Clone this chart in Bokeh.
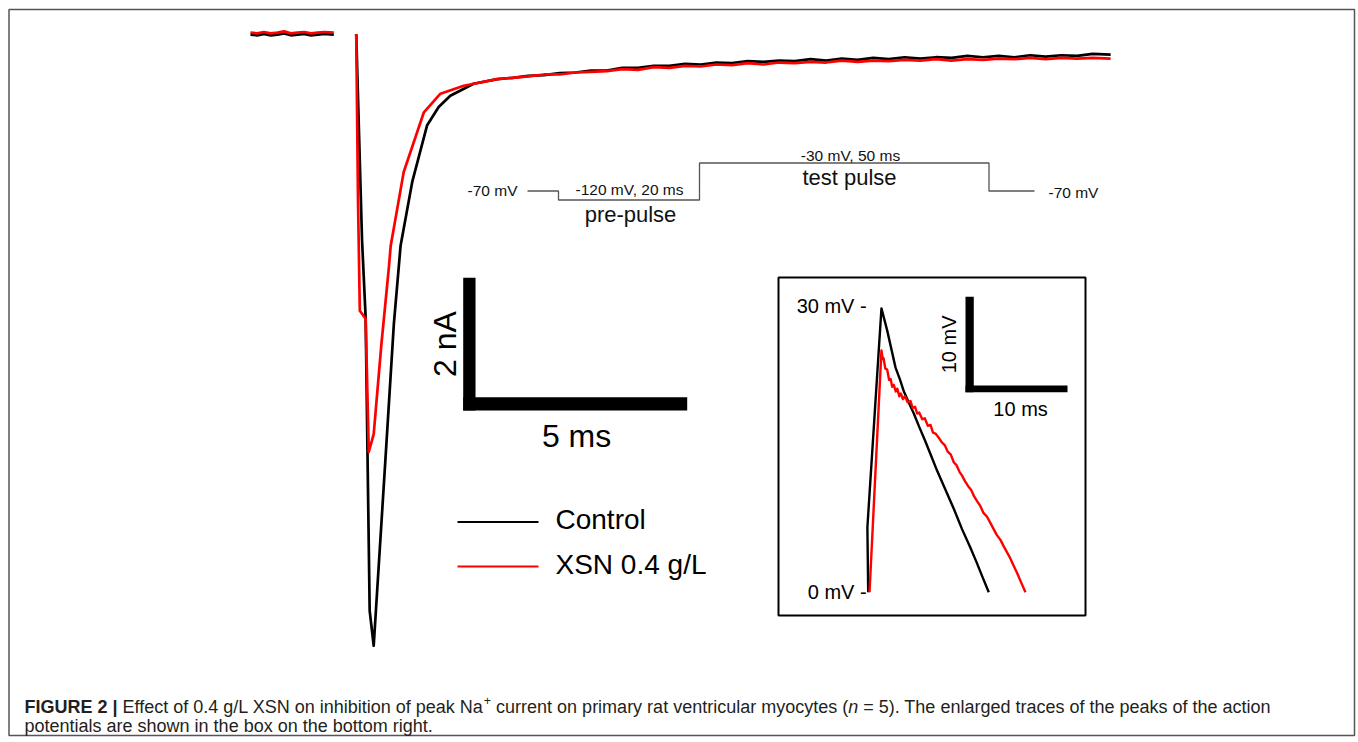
from math import pi
from bokeh.plotting import figure
from bokeh.models import Range1d
from bokeh.embed import file_html
from bokeh.resources import INLINE
from bokeh.core.properties import value

# ---------------- data ----------------
# Na+ current traces (time in ms, current in nA)
base_t = [0.00, 0.15, 0.30, 0.45, 0.60, 0.75, 0.90, 1.05, 1.20, 1.35, 1.50, 1.65, 1.86]
ctrl_base_i = [-0.01, -0.02, 0.00, -0.02, -0.01, 0.01, -0.02, -0.01, 0.00, -0.02, -0.01, 0.00, -0.01]
xsn_base_i = [0.02, 0.01, 0.03, 0.01, 0.02, 0.04, 0.01, 0.02, 0.03, 0.01, 0.02, 0.03, 0.02]

ctrl_t = [2.36, 2.49, 2.57, 2.66, 2.75, 2.79, 3.01, 3.20, 3.35, 3.61, 3.94, 4.20, 4.46, 4.98, 5.51,
          5.85, 6.20, 6.55, 6.90, 7.25, 7.60, 7.95, 8.30, 8.65, 9.00, 9.35, 9.70, 10.05, 10.40, 10.75,
          11.10, 11.45, 11.80, 12.15, 12.50, 12.85, 13.20, 13.55, 13.90, 14.25, 14.60, 14.95, 15.30,
          15.65, 16.00, 16.35, 16.70, 17.05, 17.40, 17.75, 18.10, 18.45, 18.80, 19.20]
ctrl_i = [0.00, -3.11, -4.27, -8.69, -9.22, -8.79, -6.43, -4.37, -3.19, -2.23, -1.38, -1.10, -0.93, -0.75, -0.68,
          -0.66, -0.63, -0.62, -0.59, -0.58, -0.55, -0.55, -0.51, -0.51, -0.48, -0.48, -0.45, -0.46, -0.43, -0.44,
          -0.41, -0.42, -0.40, -0.41, -0.38, -0.40, -0.37, -0.39, -0.36, -0.38, -0.35, -0.37, -0.35,
          -0.36, -0.33, -0.35, -0.33, -0.35, -0.32, -0.34, -0.32, -0.33, -0.30, -0.31]

xsn_t = [2.36, 2.40, 2.44, 2.57, 2.64, 2.75, 2.92, 3.09, 3.13, 3.42, 3.87, 4.24, 4.76, 5.51,
         5.85, 6.20, 6.55, 6.90, 7.25, 7.60, 7.95, 8.30, 8.65, 9.00, 9.35, 9.70, 10.05, 10.40, 10.75,
         11.10, 11.45, 11.80, 12.15, 12.50, 12.85, 13.20, 13.55, 13.90, 14.25, 14.60, 14.95, 15.30,
         15.65, 16.00, 16.35, 16.70, 17.05, 17.40, 17.75, 18.10, 18.45, 18.80, 19.20]
xsn_i = [0.00, -2.51, -4.17, -4.29, -6.30, -6.03, -4.69, -3.51, -3.19, -2.08, -1.18, -0.90, -0.78, -0.68,
         -0.66, -0.64, -0.61, -0.61, -0.58, -0.57, -0.56, -0.53, -0.54, -0.50, -0.51, -0.48, -0.49, -0.46, -0.47,
         -0.44, -0.46, -0.43, -0.44, -0.42, -0.43, -0.40, -0.42, -0.40, -0.41, -0.39, -0.40, -0.38,
         -0.40, -0.38, -0.39, -0.37, -0.38, -0.36, -0.38, -0.36, -0.37, -0.36, -0.37]

# Action potential peaks (inset; time in ms, voltage in mV)
ap_ctrl_t = [0.00, -0.08, 1.30, 1.86, 2.68, 3.10, 3.50, 4.00, 4.47, 5.00, 5.60, 6.20, 6.76, 7.50, 8.40,
             9.20, 10.00, 10.60, 11.20, 11.82]
ap_ctrl_v = [0.0, 6.8, 29.7, 27.4, 23.5, 22.3, 21.0, 19.8, 18.7, 17.3, 15.8, 14.2, 12.7, 10.9, 8.7,
             6.6, 4.7, 3.2, 1.6, 0.0]
ap_xsn_t = [0.13, 1.30, 1.42, 1.50, 1.68, 1.86, 2.05, 2.20, 2.35, 2.51, 2.70, 2.85, 3.05, 3.20, 3.40, 3.60,
            3.85, 4.15, 4.35, 4.60, 4.80, 5.00, 5.30, 5.55, 5.85, 6.11, 6.35, 6.60, 6.90, 7.20, 7.50, 7.80,
            8.10, 8.39, 8.65, 8.95, 9.20, 9.50, 9.80, 10.10, 10.40, 10.69, 11.00, 11.30, 11.65, 12.00, 12.30,
            12.60, 12.95, 13.29, 13.60, 13.90, 14.25, 14.60, 15.00, 15.42]
ap_xsn_v = [0.0, 25.3, 24.4, 24.5, 23.4, 23.3, 22.2, 22.3, 21.5, 21.7, 21.0, 21.3, 20.5, 20.8, 20.2, 20.5,
            19.9, 20.0, 19.3, 19.4, 18.7, 18.8, 18.1, 18.2, 17.4, 17.5, 16.7, 16.6, 16.2, 15.7, 15.4, 14.7,
            14.4, 13.6, 13.3, 12.6, 12.2, 11.6, 11.1, 10.7, 10.0, 9.5, 9.0, 8.3, 7.9, 7.2, 6.6,
            6.0, 5.5, 4.8, 4.2, 3.6, 2.8, 2.0, 1.0, 0.0]

series_names = ["Control", "XSN 0.4 g/L"]
series_colors = ["#000000", "#ff0000"]

# ---------------- layout ----------------
W, H = 1356, 740
OX, OY = 0, 0
FONT = value("Liberation Sans")


def xr(anchor_px, anchor_val, ppu):
    return Range1d(anchor_val + (OX - anchor_px) / ppu, anchor_val + (OX + W - anchor_px) / ppu)


def yr(anchor_px, anchor_val, ppu):
    return Range1d(anchor_val + (anchor_px - (OY + H)) / ppu, anchor_val + (anchor_px - OY) / ppu)


def Y(sy):
    return -sy


p = figure(width=W, height=H, output_backend="svg", toolbar_location=None,
           x_range=Range1d(OX, OX + W), y_range=Range1d(-(OY + H), -OY),
           x_axis_location=None, y_axis_location=None, min_border=0,
           outline_line_color=None, background_fill_color="white", border_fill_color="white")
p.xgrid.visible = False
p.ygrid.visible = False

p.extra_x_ranges = {"cx": xr(250, 0.0, 44.8), "ix": xr(867.7, 0.0, 10.2)}
p.extra_y_ranges = {"cy": yr(33.5, 0.0, 66.35), "iy": yr(591.7, 0.0, 9.556)}

# outer frame
p.quad(left=[8.5], right=[1354], top=[Y(9)], bottom=[Y(735)],
       fill_color=None, line_color="#555555", line_width=1.5)

# current traces
lw = 2.7
p.line(base_t, ctrl_base_i, x_range_name="cx", y_range_name="cy", line_color=series_colors[0], line_width=lw, line_join="round")
p.line(ctrl_t, ctrl_i, x_range_name="cx", y_range_name="cy", line_color=series_colors[0], line_width=lw, line_join="round")
p.line(base_t, xsn_base_i, x_range_name="cx", y_range_name="cy", line_color=series_colors[1], line_width=lw, line_join="round")
p.line(xsn_t, xsn_i, x_range_name="cx", y_range_name="cy", line_color=series_colors[1], line_width=lw, line_join="round")

# main scale bar (5 ms, 2 nA)
t0, i0 = 4.748, -5.674
p.quad(left=[t0, t0], right=[t0 + 0.275, t0 + 5.0], bottom=[i0, i0], top=[i0 + 2.0, i0 + 0.2],
       x_range_name="cx", y_range_name="cy", fill_color="black", line_color=None)
p.text(x=[t0 - 0.40], y=[i0 + 1.0], text=["2 nA"], angle=pi / 2, x_range_name="cx", y_range_name="cy",
       text_font=FONT, text_font_size=value("32px"), text_align="center", text_baseline="middle", text_color="black")
p.text(x=[t0 + 2.53], y=[i0 - 0.38], text=["5 ms"], x_range_name="cx", y_range_name="cy",
       text_font=FONT, text_font_size=value("32px"), text_align="center", text_baseline="middle", text_color="black")

# legend
for sy, name, col in zip([521.5, 566.0], series_names, series_colors):
    p.segment(x0=[457], y0=[Y(sy)], x1=[538], y1=[Y(sy)], line_color=col, line_width=2)
    p.text(x=[555], y=[Y(sy - 2.5)], text=[name], text_font=FONT, text_font_size=value("28px"),
           text_align="left", text_baseline="middle", text_color="black")

# voltage protocol schematic
proto_x = [527, 558, 558, 699, 699, 988.5, 988.5, 1034]
proto_y = [190.5, 190.5, 199.5, 199.5, 162.5, 162.5, 190.5, 190.5]
p.line(proto_x, [Y(v) for v in proto_y], line_color="#555555", line_width=1.3)
small = value("15.5px")
big = value("22px")
pc = "#111111"
p.text(x=[517], y=[Y(190)], text=["-70 mV"], text_font=FONT, text_font_size=small, text_align="right", text_baseline="middle", text_color=pc)
p.text(x=[629], y=[Y(189)], text=["-120 mV, 20 ms"], text_font=FONT, text_font_size=small, text_align="center", text_baseline="middle", text_color=pc)
p.text(x=[630], y=[Y(214)], text=["pre-pulse"], text_font=FONT, text_font_size=big, text_align="center", text_baseline="middle", text_color=pc)
p.text(x=[850], y=[Y(154.5)], text=["-30 mV, 50 ms"], text_font=FONT, text_font_size=small, text_align="center", text_baseline="middle", text_color=pc)
p.text(x=[849], y=[Y(176.5)], text=["test pulse"], text_font=FONT, text_font_size=big, text_align="center", text_baseline="middle", text_color=pc)
p.text(x=[1048], y=[Y(191.5)], text=["-70 mV"], text_font=FONT, text_font_size=small, text_align="left", text_baseline="middle", text_color=pc)

# inset box
p.quad(left=[778], right=[1085], top=[Y(277)], bottom=[Y(615)], fill_color=None, line_color="black", line_width=2)
p.line(ap_ctrl_t, ap_ctrl_v, x_range_name="ix", y_range_name="iy", line_color=series_colors[0], line_width=2.4, line_join="round")
p.line(ap_xsn_t, ap_xsn_v, x_range_name="ix", y_range_name="iy", line_color=series_colors[1], line_width=2.4, line_join="round")
p.text(x=[-0.15, -0.15], y=[30, 0], text=["30 mV -", "0 mV -"], x_range_name="ix", y_range_name="iy",
       text_font=FONT, text_font_size=value("20px"), text_align="right", text_baseline="middle", text_color="black")
# inset scale bar (10 ms, 10 mV)
u0, v0 = 9.54, 20.93
p.quad(left=[u0, u0], right=[u0 + 0.81, u0 + 10.0], bottom=[v0, v0], top=[v0 + 10.0, v0 + 0.70],
       x_range_name="ix", y_range_name="iy", fill_color="black", line_color=None)
p.text(x=[u0 - 1.6], y=[v0 + 5.0], text=["10 mV"], angle=pi / 2, x_range_name="ix", y_range_name="iy",
       text_font=FONT, text_font_size=value("20px"), text_align="center", text_baseline="middle", text_color="black")
p.text(x=[u0 + 5.4], y=[v0 - 1.75], text=["10 ms"], x_range_name="ix", y_range_name="iy",
       text_font=FONT, text_font_size=value("20px"), text_align="center", text_baseline="middle", text_color="black")

# caption with Arial-metric widths
REG = {' ': .278, '(': .333, ')': .333, '+': .584, ',': .278, '-': .333, '.': .278, '/': .278, '=': .584, '|': .26,
       'E': .667, 'L': .556, 'N': .722, 'S': .667, 'T': .611, 'X': .667,
       'a': .556, 'b': .556, 'c': .5, 'd': .556, 'e': .556, 'f': .278, 'g': .556, 'h': .556, 'i': .222,
       'k': .5, 'l': .222, 'm': .833, 'n': .556, 'o': .556, 'p': .556, 'r': .333, 's': .5, 't': .278,
       'u': .556, 'v': .5, 'w': .722, 'y': .5}
BOLD = {'F': .611, 'I': .278, 'G': .778, 'U': .722, 'R': .722, 'E': .667, ' ': .278, '2': .556, '|': .28}


def tw(s, size, table):
    return sum(table.get(c, .556) for c in s) * size


CS = 18.0
cap_color = "#231f20"
L1, L2 = 706, 725
line1 = [("FIGURE 2 |", "bold", CS, 0), (" Effect of 0.4 g/L XSN on inhibition of peak Na", "normal", CS, 0),
         ("+", "normal", 12.5, -6), (" current on primary rat ventricular myocytes (", "normal", CS, 0),
         ("n", "italic", CS, 0), (" = 5). The enlarged traces of the peaks of the action", "normal", CS, 0)]
x = 24.0
for txt, style, size, dy in line1:
    table = BOLD if style == "bold" else REG
    lead = len(txt) - len(txt.lstrip(" "))
    x += lead * table[' '] * size
    body = txt.lstrip(" ")
    p.text(x=[x], y=[Y(L1 + dy)], text=[body], text_font=FONT, text_font_size=value(f"{size}px"),
           text_font_style=style, text_align="left", text_baseline="middle", text_color=cap_color)
    x += tw(body, size, table)
p.text(x=[24], y=[Y(L2)], text=["potentials are shown in the box on the bottom right."], text_font=FONT,
       text_font_size=value(f"{CS}px"), text_align="left", text_baseline="middle", text_color=cap_color)

open("out.html", "w").write(file_html(p, INLINE))
